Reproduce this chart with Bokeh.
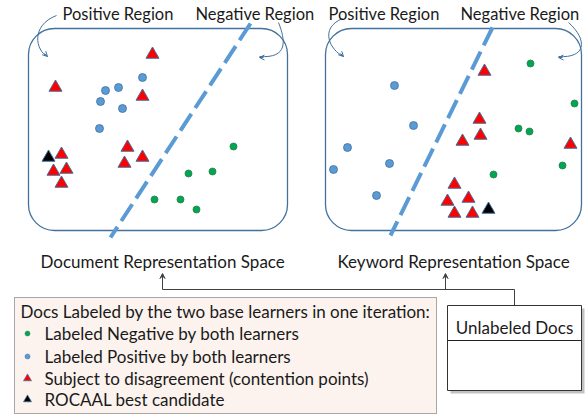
from bokeh.plotting import figure
from bokeh.models import Range1d, Arrow, OpenHead, VeeHead
from bokeh.core.properties import value
from bokeh.embed import file_html
from bokeh.resources import INLINE

FONT = value("Lato")

# ---- data: Document representation space ----
doc_neg_x = [233, 212, 188, 154, 180, 196]
doc_neg_y = [146, 171, 173, 199, 199, 209]
doc_pos_x = [142, 118, 105, 100, 122, 99]
doc_pos_y = [77, 87, 90, 101, 108, 128]
doc_dis_x = [152, 55, 142, 127, 124, 142, 61, 53, 66, 61]
doc_dis_y = [54, 87, 96, 147, 163, 157, 154, 171, 169, 183]
doc_best_x = [48]
doc_best_y = [157]

# ---- data: Keyword representation space ----
kw_neg_x = [530, 574, 518, 529, 562, 493]
kw_neg_y = [63, 103, 128, 131, 165, 174]
kw_pos_x = [394, 413, 347, 389, 333, 376]
kw_pos_y = [85, 125, 147, 163, 169, 195]
kw_dis_x = [484, 479, 480, 462, 570, 454, 447, 468, 454, 472]
kw_dis_y = [71, 119, 135, 141, 144, 184, 201, 198, 213, 213]
kw_best_x = [488]
kw_best_y = [209]

region_labels = ["Positive Region", "Negative Region", "Positive Region", "Negative Region"]
space_labels = ["Document Representation Space", "Keyword Representation Space"]
legend_title = "Docs Labeled by the two base learners in one iteration:"
legend_items = ["Labeled Negative by both learners",
                "Labeled Positive by both learners",
                "Subject to disagreement (contention points)",
                "ROCAAL best candidate"]
box_label = "Unlabeled Docs"

GREEN = "#00A651"
GREEN_LINE = "#2E7D4F"
BLUE = "#5B9BD5"
BLUE_LINE = "#41719C"
RED = "#FF0000"
DASH_BLUE = "#5B9BD5"
TXT = "#1a1a1a"

p = figure(width=587, height=418, output_backend="svg", toolbar_location=None,
           x_range=Range1d(0, 587), y_range=Range1d(418, 0), min_border=0)
p.axis.visible = False
p.grid.visible = False
p.outline_line_color = None
p.background_fill_color = "white"

# rounded boxes
p.quad(left=[28, 325], right=[287, 581], top=[28, 28], bottom=[230, 230],
       fill_color=None, line_color=BLUE_LINE, line_width=1.3, border_radius=26)

# dashed separators
p.segment(x0=[250, 492], y0=[23, 27], x1=[110, 390], y1=[237, 235],
          line_color=DASH_BLUE, line_width=4, line_dash="20 7")

# curved arrows
p.bezier(x0=[56, 278, 342, 568], y0=[15, 22, 18, 22],
         x1=[47, 259, 343, 558], y1=[56, 56, 56, 56],
         cx0=[30, 285, 318, 588], cy0=[25, 40, 28, 40],
         cx1=[35, 288, 330, 585], cy1=[50, 58, 50, 58],
         line_color=BLUE_LINE, line_width=1)
for (xs, ys, xe, ye) in [(44, 53, 47, 56), (263, 57, 259, 57), (340, 53, 343, 56), (562, 57, 558, 57)]:
    p.add_layout(Arrow(end=OpenHead(size=5, line_color=BLUE_LINE, line_width=1),
                       x_start=xs, y_start=ys, x_end=xe, y_end=ye,
                       line_color=BLUE_LINE, line_width=1))

# points
for nx, ny, px, py, dx, dy, bx, by in [
        (doc_neg_x, doc_neg_y, doc_pos_x, doc_pos_y, doc_dis_x, doc_dis_y, doc_best_x, doc_best_y),
        (kw_neg_x, kw_neg_y, kw_pos_x, kw_pos_y, kw_dis_x, kw_dis_y, kw_best_x, kw_best_y)]:
    p.scatter(nx, ny, marker="circle", size=7, fill_color=GREEN, line_color=GREEN_LINE, line_width=0.8)
    p.scatter(px, py, marker="circle", size=8, fill_color=BLUE, line_color=BLUE_LINE, line_width=0.8)
    p.scatter(dx, dy, marker="triangle", size=13, fill_color=RED, line_color=BLUE_LINE, line_width=1)
    p.scatter(bx, by, marker="triangle", size=13, fill_color="black", line_color=BLUE_LINE, line_width=1)

# region labels
p.text(x=[62, 195, 328, 460], y=[13, 13, 13, 13], text=region_labels,
       text_font=FONT, text_font_size="16.5px", text_baseline="middle", text_align="left", text_color=TXT)

# space labels
p.text(x=[40, 337], y=[261, 261], text=space_labels,
       text_font=FONT, text_font_size="17px", text_baseline="middle", text_align="left", text_color=TXT)

# connectors
p.segment(x0=[162, 514], y0=[289, 289], x1=[514, 514], y1=[289, 305], line_color="#404040", line_width=1)
for xa in [162, 445]:
    p.add_layout(Arrow(end=VeeHead(size=5, fill_color="#404040", line_color="#404040"),
                       x_start=xa, y_start=289, x_end=xa, y_end=273,
                       line_color="#404040", line_width=1))

# legend box
p.quad(left=[14], right=[436], top=[297], bottom=[413], fill_color="#FCF3EE",
       line_color="#555555", line_width=1, line_dash="1 1")
p.text(x=[20], y=[311], text=[legend_title], text_font=FONT, text_font_size="17px",
       text_baseline="middle", text_color=TXT)
leg_y = [333, 356, 378, 399]
p.text(x=[44] * 4, y=leg_y, text=legend_items, text_font=FONT, text_font_size="17px",
       text_baseline="middle", text_color=TXT)
p.scatter([27], [leg_y[0]], marker="circle", size=5, fill_color=GREEN, line_color=GREEN_LINE, line_width=0.5)
p.scatter([27], [leg_y[1]], marker="circle", size=5, fill_color=BLUE, line_color=BLUE_LINE, line_width=0.5)
p.scatter([27], [leg_y[2]], marker="triangle", size=8, fill_color=RED, line_color=BLUE_LINE, line_width=0.7)
p.scatter([27], [leg_y[3]], marker="triangle", size=8, fill_color="black", line_color=BLUE_LINE, line_width=0.7)

# unlabeled docs box
p.quad(left=[450], right=[584], top=[308], bottom=[393], fill_color="#9a9a9a", line_color=None, fill_alpha=0.6)
p.quad(left=[447], right=[581], top=[305], bottom=[390], fill_color="white", line_color="#333333", line_width=1)
p.segment(x0=[447], y0=[340], x1=[581], y1=[340], line_color="#222222", line_width=1)
p.text(x=[514], y=[327], text=[box_label], text_font=FONT, text_font_size="17px",
       text_baseline="middle", text_align="center", text_color=TXT)

open("out.html", "w").write(file_html(p, INLINE))
